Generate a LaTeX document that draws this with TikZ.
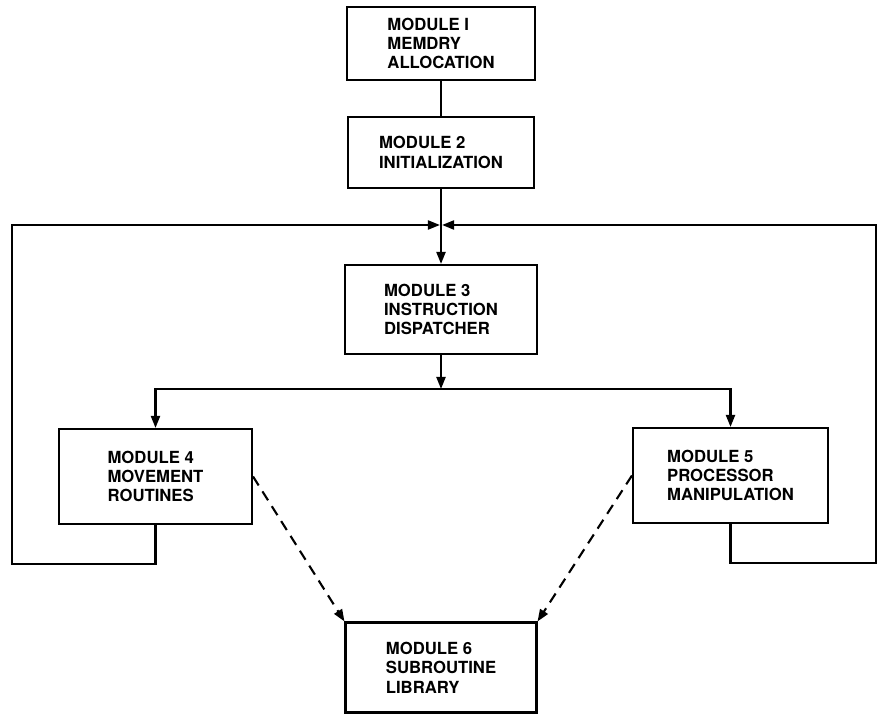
\documentclass[tikz,border=0pt]{standalone}
\usepackage{fontspec}
\setmainfont{TeX Gyre Heros}
\usetikzlibrary{arrows.meta}
\tikzset{
  modbox/.style={
    draw=black,
    line width=1.2pt,
    align=left,
    inner sep=3pt,
    font=\bfseries\fontsize{9.5}{11}\selectfont
  },
  flow/.style={-{Triangle[length=2.4mm,width=1.8mm]},line width=1.2pt,draw=black},
  libflow/.style={
    -{Triangle[length=2.4mm,width=1.8mm]},
    dash pattern=on 6pt off 4pt,
    line width=1.2pt,
    draw=black
  }
}
\begin{document}
\begin{tikzpicture}[x=0.02cm,y=-0.02cm]
    \useasboundingbox (0,0) rectangle (885,715);

    \node[modbox,minimum width=3.76cm,minimum height=1.46cm] (mod1) at (441,43.5) {
      MODULE I\\
      MEMDRY\\
      ALLOCATION};
    \node[modbox,minimum width=3.72cm,minimum height=1.42cm] (mod2) at (441,152.5) {
      MODULE 2\\
      INITIALIZATION};
    \node[modbox,minimum width=3.84cm,minimum height=1.78cm] (mod3) at (441,309.5) {
      MODULE 3\\
      INSTRUCTION\\
      DISPATCHER};
    \node[modbox,minimum width=3.86cm,minimum height=1.9cm] (mod4) at (155.5,476.5) {
      MODULE 4\\
      MOVEMENT\\
      ROUTINES};
    \node[modbox,minimum width=3.9cm,minimum height=1.9cm] (mod5) at (730.5,475.5) {
      MODULE 5\\
      PROCESSOR\\
      MANIPULATION};
    \node[modbox,minimum width=3.82cm,minimum height=1.8cm] (mod6) at (441,667.5) {
      MODULE 6\\
      SUBROUTINE\\
      LIBRARY};

    \coordinate (join) at (441,225);
    \coordinate (split) at (441,389);

    \draw[line width=1.2pt] (mod1) -- (mod2);
    \draw[flow] (mod2) -- (mod3);
    \draw[flow] (mod3) -- (split);
    \draw[flow] (split) -| (mod4);
    \draw[flow] (split) -| (mod5);

    % return paths
    \draw[flow,shorten >=0.6pt] (mod4.south) |- (12,564) -- (12,225) -- (join);
    \draw[flow,shorten >=0.6pt] (mod5.south) |- (876,563) -- (876,225) -- (join);

    \draw[libflow] (mod4.east) -- (mod6.north west);
    \draw[libflow] (mod5.west) -- (mod6.north east);
  \end{tikzpicture}
\end{document}
